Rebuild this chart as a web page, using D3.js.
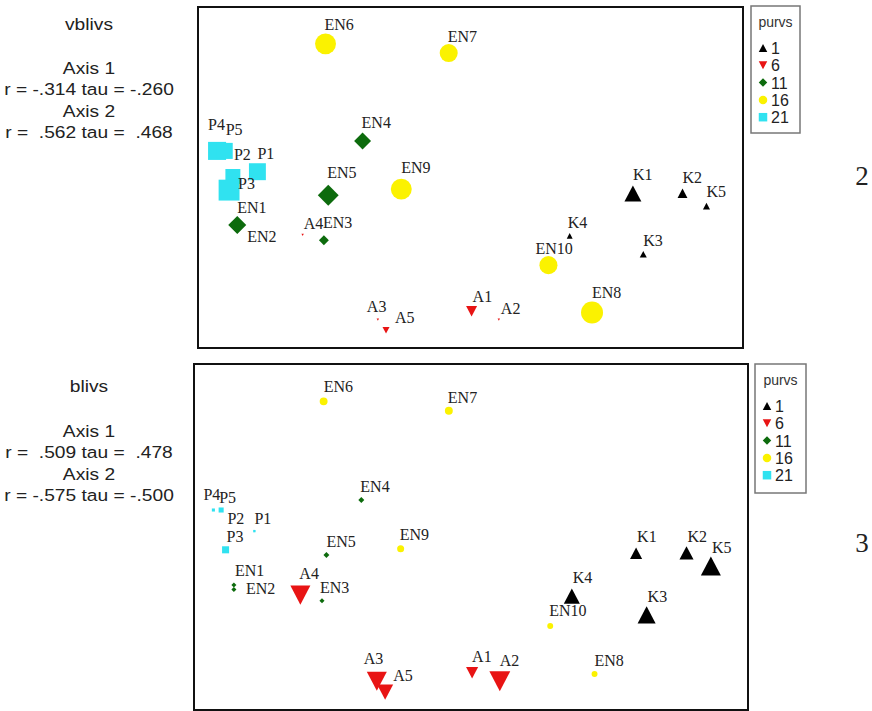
<!DOCTYPE html>
<html><head><meta charset="utf-8">
<script src="https://cdnjs.cloudflare.com/ajax/libs/d3/7.8.5/d3.min.js"></script>
<style>body{margin:0;background:#fff}</style>
</head><body>
<svg id="chart" width="872" height="711"></svg>
<script>
// ---------- data ----------
const names  = ["EN6","EN7","EN4","P4","P5","P1","P2","P3","EN5","EN9","EN1","EN2","A4","EN3","A3","A5","A1","A2","K4","EN10","EN8","K1","K2","K5","K3"];
const purvs  = [16,16,11,21,21,21,21,21,11,16,11,11,6,11,6,6,6,6,1,16,16,1,1,1,1];
const axis1  = [23.4,46.0,30.2,3.5,4.9,10.9,6.4,5.7,23.9,37.3,7.2,7.2,19.2,23.1,33.0,34.5,50.2,55.2,68.2,64.3,72.3,79.8,88.9,93.3,81.7];
const axis2  = [89.2,86.5,60.7,57.8,57.8,51.7,50.3,46.3,44.8,46.6,36.1,34.8,33.2,31.6,8.3,5.2,10.8,8.3,32.9,24.3,10.4,45.3,45.4,41.6,27.5];
const vblivs = [9.5,8.2,7.7,8.2,7.3,7.7,6.8,9.5,9.5,9.5,8.2,3.6,1.1,4.5,1.1,3.2,5.0,1.1,2.7,8.2,10.0,7.7,4.5,3.2,3.2];
const blivs  = [3.6,3.6,2.7,1.4,2.3,1.1,0,3.2,2.7,3.2,2.3,2.3,9.1,2.3,9.1,7.3,5.5,9.5,7.3,2.7,2.7,5.5,6.4,9.1,8.2];
const legendValues = [1,6,11,16,21];
const panelTitles  = ["vblivs","blivs"];
const axisStats = [
  ["Axis 1","r = -.314 tau = -.260","Axis 2","r =  .562 tau =  .468"],
  ["Axis 1","r =  .509 tau =  .478","Axis 2","r = -.575 tau = -.500"]
];
const panelNumbers = ["2","3"];

// ---------- layout / style ----------
const panels = [
  {x0:198,x1:743,y0:7,y1:348, leg:{x:751,y:6,w:49,h:127}, titleY:30, statY:[74,95,117,138], numY:185,
   sizes:vblivs,
   lab:{EN6:[-1,-14],EN7:[-1,-11],EN4:[-1,-13],P4:[-9,-21],P5:[1,-16],P2:[1,-16],P1:[0,-13],P3:[9,-1],
        EN5:[-1,-17],EN9:[0,-16],EN1:[0,-12],EN2:[10,13],A4:[1,-6],EN3:[-1,-12],A3:[-11,-8],A5:[9,-7],
        A1:[1,-9],A2:[2,-6],K4:[-2,-8],EN10:[-13,-11],EN8:[0,-15],K1:[0,-14],K2:[0,-10],K5:[0,-9],K3:[0,-8]}},
  {x0:194,x1:748,y0:364,y1:710, leg:{x:755,y:364,w:51,h:129}, titleY:392, statY:[437,458,480,501], numY:552,
   sizes:blivs,
   lab:{EN6:[0,-9],EN7:[-1,-8],EN4:[-1,-8],P4:[-10,-10],P5:[-2,-7],P2:[-2,-12],P1:[0,-7],P3:[1,-8],
        EN5:[0,-8],EN9:[-1,-9],EN1:[1,-9],EN2:[12,4],A4:[-1,-16],EN3:[-2,-8],A3:[-13,-17],A5:[8,-11],
        A1:[0,-11],A2:[0,-15],K4:[1,-13],EN10:[-1,-10],EN8:[0,-8],K1:[1,-11],K2:[1,-11],K5:[1,-13],K3:[1,-13]}}
];
const groupStyle = {
  1:{shape:"up",   color:"#000000"},
  6:{shape:"down", color:"#e81414"},
  11:{shape:"diamond", color:"#0d6b0d"},
  16:{shape:"circle", color:"#fbf200"},
  21:{shape:"square", color:"#30e2f0"}
};
const SANS = "'Liberation Sans', Arial, sans-serif";
const SERIF = "'Liberation Serif', 'Times New Roman', serif";

function shapePath(shape, s){
  const h=s/2;
  if(shape==="up"){const t=s*0.95/2; return `M0,${-t}L${h},${t}L${-h},${t}Z`;}
  if(shape==="down"){const t=s*0.95/2; return `M0,${t}L${h},${-t}L${-h},${-t}Z`;}
  if(shape==="diamond") return `M0,${-h}L${h},0L0,${h}L${-h},0Z`;
  if(shape==="square") return `M${-h},${-h}H${h}V${h}H${-h}Z`;
  return `M${h},0A${h},${h},0,1,1,${-h},0A${h},${h},0,1,1,${h},0Z`;
}

const svg = d3.select("#chart");
const sizeScale = d3.scaleLinear().domain([0,10]).range([0,22]);
const points = names.map((n,i)=>({name:n, g:purvs[i], a1:axis1[i], a2:axis2[i], i}));

panels.forEach((p,pi)=>{
  const x = d3.scaleLinear().domain([0,100]).range([p.x0,p.x1]);
  const y = d3.scaleLinear().domain([0,100]).range([p.y1,p.y0]);
  const g = svg.append("g");

  // frame
  g.append("rect").attr("x",p.x0).attr("y",p.y0).attr("width",p.x1-p.x0).attr("height",p.y1-p.y0)
    .attr("fill","#fff").attr("stroke","#111").attr("stroke-width",2);

  // markers
  g.selectAll("path.mk").data(points.filter(d=>p.sizes[d.i]>0)).join("path")
    .attr("class","mk")
    .attr("transform",d=>`translate(${x(d.a1)},${y(d.a2)})`)
    .attr("d",d=>shapePath(groupStyle[d.g].shape, Math.max(2.2,sizeScale(p.sizes[d.i]))))
    .attr("fill",d=>groupStyle[d.g].color);

  // labels
  g.selectAll("text.lb").data(points).join("text")
    .attr("class","lb")
    .attr("x",d=>x(d.a1)+p.lab[d.name][0])
    .attr("y",d=>y(d.a2)+p.lab[d.name][1])
    .attr("font-family",SERIF).attr("font-size",16).attr("fill","#222")
    .text(d=>d.name);

  // left text
  const cx=89;
  const lt = g.append("g").attr("transform",`translate(${cx},0) scale(1.13,1)`);
  lt.append("text").attr("x",0).attr("y",p.titleY).attr("text-anchor","middle")
    .attr("font-family",SANS).attr("font-size",17).attr("fill","#222").text(panelTitles[pi]);
  axisStats[pi].forEach((s,k)=>{
    lt.append("text").attr("x",0).attr("y",p.statY[k]).attr("text-anchor","middle")
      .style("white-space","pre")
      .attr("font-family",SANS).attr("font-size",17).attr("fill","#222").text(s);
  });

  // legend
  const L=p.leg;
  g.append("rect").attr("x",L.x).attr("y",L.y).attr("width",L.w).attr("height",L.h)
    .attr("fill","#fff").attr("stroke","#777").attr("stroke-width",1.5);
  g.append("text").attr("x",L.x+L.w/2).attr("y",L.y+21).attr("text-anchor","middle")
    .attr("font-family",SANS).attr("font-size",14).attr("fill","#333").text("purvs");
  const li = g.selectAll("g.li").data(legendValues).join("g").attr("class","li")
    .attr("transform",(v,k)=>`translate(${L.x+12},${L.y+42+k*17.3})`);
  li.append("path").attr("d",v=>shapePath(groupStyle[v].shape, 8.5)).attr("fill",v=>groupStyle[v].color);
  li.append("text").attr("x",8).attr("y",6).attr("font-family",SANS).attr("font-size",16)
    .attr("fill","#222").text(v=>v);

  // panel number
  svg.append("text").attr("x",862).attr("y",p.numY).attr("text-anchor","middle")
    .attr("font-family",SERIF).attr("font-size",27).attr("fill","#222").text(panelNumbers[pi]);
});
</script>
</body></html>
